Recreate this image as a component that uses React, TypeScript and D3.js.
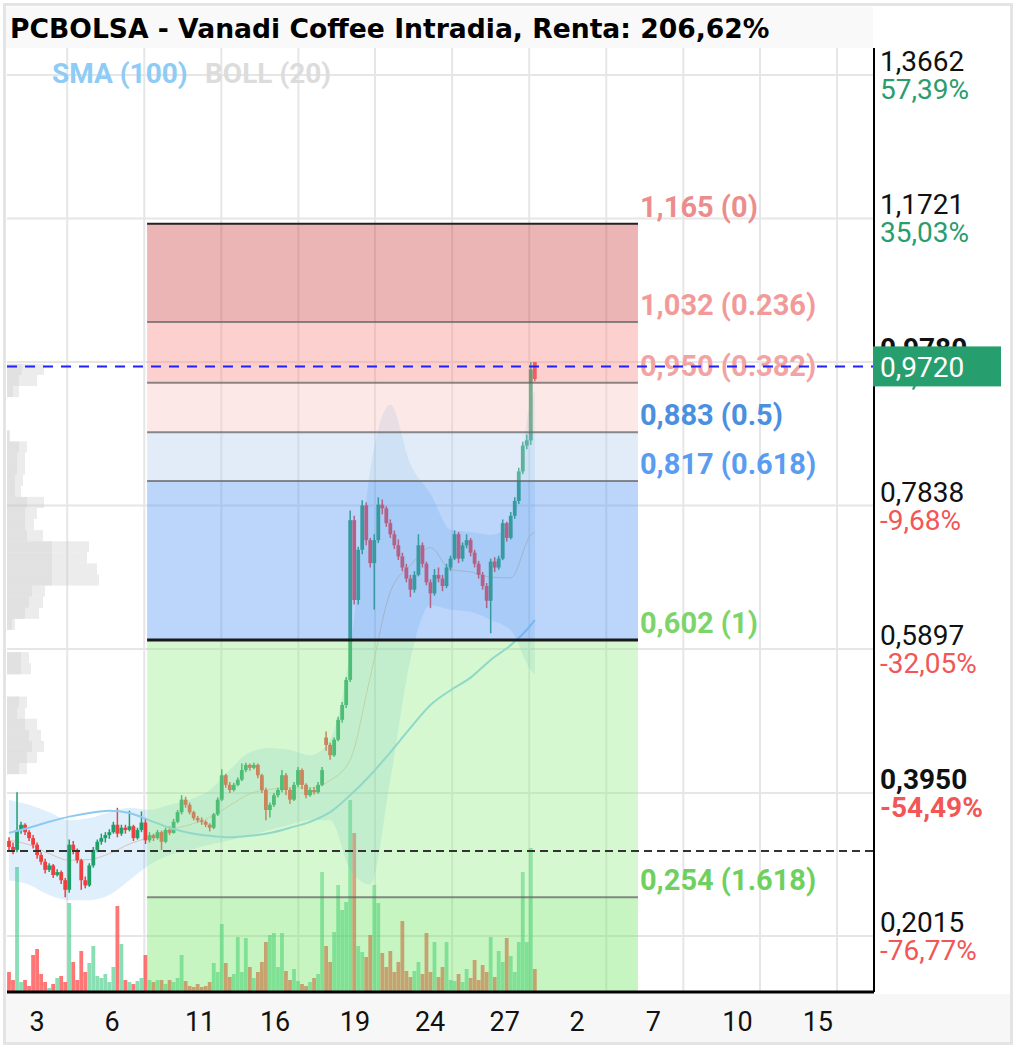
import React from 'react';
import * as d3 from 'd3';

// ---- data ----
const candleOpen = [
  0.330, 0.322, 0.318, 0.345, 0.352, 0.342, 0.334, 0.325, 0.311, 0.302,
  0.291, 0.297, 0.284, 0.288, 0.277, 0.264, 0.325, 0.318, 0.304, 0.277,
  0.270, 0.297, 0.318, 0.329, 0.334, 0.338, 0.342, 0.352, 0.340, 0.348,
  0.345, 0.350, 0.334, 0.345, 0.355, 0.331, 0.338, 0.334, 0.342, 0.329,
  0.345, 0.341, 0.356, 0.369, 0.386, 0.379, 0.369, 0.361, 0.358, 0.356,
  0.352, 0.348, 0.366, 0.386, 0.419, 0.406, 0.399, 0.406, 0.413, 0.426,
  0.433, 0.429, 0.433, 0.419, 0.399, 0.372, 0.379, 0.392, 0.399, 0.419,
  0.399, 0.386, 0.406, 0.426, 0.406, 0.392, 0.399, 0.396, 0.406, 0.470,
  0.460, 0.446, 0.467, 0.494, 0.514, 0.548, 0.764, 0.656, 0.724, 0.784,
  0.737, 0.706, 0.737, 0.785, 0.780, 0.760, 0.745, 0.730, 0.715, 0.700,
  0.685, 0.670, 0.690, 0.730, 0.705, 0.680, 0.665, 0.690, 0.685, 0.675,
  0.700, 0.712, 0.745, 0.712, 0.730, 0.737, 0.720, 0.705, 0.690, 0.675,
  0.655, 0.708, 0.700, 0.712, 0.760, 0.740, 0.770, 0.790, 0.830, 0.865,
  0.872, 0.978];
const candleClose = [
  0.322, 0.318, 0.345, 0.352, 0.342, 0.334, 0.325, 0.311, 0.302, 0.291,
  0.297, 0.284, 0.288, 0.277, 0.264, 0.325, 0.318, 0.304, 0.277, 0.270,
  0.297, 0.318, 0.329, 0.334, 0.338, 0.342, 0.352, 0.340, 0.348, 0.345,
  0.350, 0.334, 0.345, 0.355, 0.331, 0.338, 0.334, 0.342, 0.329, 0.345,
  0.341, 0.356, 0.369, 0.386, 0.379, 0.369, 0.361, 0.358, 0.356, 0.352,
  0.348, 0.366, 0.386, 0.419, 0.406, 0.399, 0.406, 0.413, 0.426, 0.433,
  0.429, 0.433, 0.419, 0.399, 0.372, 0.379, 0.392, 0.399, 0.419, 0.399,
  0.386, 0.406, 0.426, 0.406, 0.392, 0.399, 0.396, 0.406, 0.426, 0.460,
  0.446, 0.467, 0.494, 0.514, 0.548, 0.764, 0.656, 0.724, 0.784, 0.737,
  0.706, 0.737, 0.785, 0.780, 0.760, 0.745, 0.730, 0.715, 0.700, 0.685,
  0.670, 0.690, 0.730, 0.705, 0.680, 0.665, 0.690, 0.685, 0.675, 0.700,
  0.712, 0.745, 0.712, 0.730, 0.737, 0.720, 0.705, 0.690, 0.675, 0.655,
  0.708, 0.700, 0.712, 0.760, 0.740, 0.770, 0.790, 0.830, 0.865, 0.872,
  0.968, 0.955];
const candleHigh = [
  0.335, 0.328, 0.396, 0.356, 0.354, 0.345, 0.338, 0.328, 0.315, 0.306,
  0.300, 0.299, 0.292, 0.290, 0.280, 0.332, 0.330, 0.320, 0.306, 0.282,
  0.300, 0.322, 0.332, 0.340, 0.342, 0.346, 0.356, 0.375, 0.352, 0.352,
  0.371, 0.352, 0.348, 0.370, 0.360, 0.342, 0.340, 0.345, 0.344, 0.348,
  0.350, 0.360, 0.372, 0.392, 0.390, 0.382, 0.371, 0.364, 0.362, 0.358,
  0.354, 0.368, 0.389, 0.427, 0.421, 0.410, 0.409, 0.416, 0.435, 0.436,
  0.435, 0.436, 0.435, 0.421, 0.402, 0.382, 0.395, 0.402, 0.426, 0.422,
  0.402, 0.410, 0.430, 0.428, 0.408, 0.402, 0.403, 0.410, 0.430, 0.478,
  0.463, 0.470, 0.498, 0.518, 0.552, 0.777, 0.770, 0.728, 0.791, 0.788,
  0.740, 0.745, 0.795, 0.792, 0.783, 0.765, 0.750, 0.738, 0.720, 0.705,
  0.690, 0.695, 0.745, 0.734, 0.708, 0.684, 0.698, 0.700, 0.690, 0.705,
  0.716, 0.750, 0.748, 0.734, 0.745, 0.740, 0.724, 0.709, 0.694, 0.679,
  0.712, 0.714, 0.716, 0.765, 0.762, 0.775, 0.795, 0.835, 0.870, 0.880,
  0.978, 0.978];
const candleLow = [
  0.318, 0.312, 0.315, 0.340, 0.338, 0.330, 0.320, 0.306, 0.298, 0.286,
  0.288, 0.280, 0.282, 0.272, 0.254, 0.260, 0.312, 0.300, 0.264, 0.266,
  0.268, 0.294, 0.315, 0.325, 0.328, 0.333, 0.340, 0.335, 0.337, 0.340,
  0.343, 0.330, 0.332, 0.342, 0.326, 0.328, 0.330, 0.332, 0.318, 0.327,
  0.338, 0.340, 0.354, 0.366, 0.375, 0.366, 0.358, 0.355, 0.352, 0.349,
  0.343, 0.346, 0.364, 0.384, 0.402, 0.395, 0.397, 0.404, 0.411, 0.423,
  0.425, 0.427, 0.415, 0.395, 0.358, 0.362, 0.376, 0.389, 0.396, 0.392,
  0.380, 0.384, 0.403, 0.400, 0.388, 0.390, 0.393, 0.394, 0.404, 0.452,
  0.440, 0.444, 0.465, 0.490, 0.510, 0.545, 0.650, 0.650, 0.718, 0.730,
  0.700, 0.643, 0.733, 0.772, 0.755, 0.740, 0.725, 0.710, 0.695, 0.680,
  0.660, 0.666, 0.688, 0.700, 0.676, 0.645, 0.662, 0.680, 0.668, 0.672,
  0.696, 0.710, 0.706, 0.708, 0.726, 0.715, 0.700, 0.685, 0.670, 0.645,
  0.611, 0.694, 0.697, 0.710, 0.735, 0.738, 0.766, 0.786, 0.826, 0.860,
  0.866, 0.952];
const volume = [
  20, 12, 125, 10, 12, 6, 37, 43, 18, 10,
  4, 8, 14, 16, 10, 89, 30, 12, 41, 20,
  29, 46, 16, 14, 18, 10, 25, 86, 48, 12,
  10, 8, 11, 14, 37, 12, 10, 12, 12, 8,
  12, 10, 14, 37, 11, 6, 5, 8, 5, 6,
  10, 29, 20, 68, 29, 15, 18, 55, 20, 54,
  25, 14, 20, 30, 50, 57, 59, 25, 59, 21,
  12, 23, 11, 8, 6, 10, 14, 18, 120, 46,
  30, 60, 107, 82, 90, 192, 159, 46, 40, 35,
  57, 107, 89, 39, 25, 41, 20, 30, 71, 21,
  15, 21, 30, 18, 59, 20, 50, 15, 25, 50,
  12, 11, 18, 10, 23, 14, 32, 12, 27, 20,
  55, 15, 41, 30, 54, 36, 20, 50, 120, 50,
  144, 23];

// Bollinger (20) and SMA (100), sampled every 5 bars
const indIdx = [0, 5, 10, 15, 20, 25, 30, 35, 40, 45, 50, 55, 60, 65, 70, 75, 80, 85, 90, 95, 100, 105, 110, 115, 120, 125, 130, 131];
const bollUpper = [0.386, 0.379, 0.369, 0.358, 0.361, 0.369, 0.375, 0.372, 0.379, 0.386, 0.399, 0.426, 0.450, 0.456, 0.453, 0.446, 0.467, 0.588, 0.832, 0.920, 0.840, 0.800, 0.751, 0.748, 0.744, 0.758, 0.927, 0.940];
const bollLower = [0.277, 0.271, 0.257, 0.250, 0.250, 0.257, 0.277, 0.298, 0.311, 0.318, 0.325, 0.331, 0.338, 0.345, 0.352, 0.358, 0.358, 0.291, 0.271, 0.413, 0.575, 0.649, 0.643, 0.640, 0.629, 0.615, 0.561, 0.555];
const bollMid = [0.331, 0.325, 0.313, 0.304, 0.305, 0.313, 0.326, 0.335, 0.345, 0.352, 0.362, 0.378, 0.394, 0.400, 0.402, 0.402, 0.412, 0.440, 0.552, 0.667, 0.703, 0.727, 0.697, 0.694, 0.687, 0.686, 0.744, 0.748];
const sma100 = [0.341, 0.348, 0.356, 0.363, 0.368, 0.371, 0.368, 0.358, 0.348, 0.341, 0.337, 0.335, 0.337, 0.341, 0.348, 0.356, 0.369, 0.392, 0.419, 0.450, 0.483, 0.514, 0.534, 0.551, 0.575, 0.595, 0.622, 0.629];

// volume profile on the left edge
const profLevels = [0.968, 0.953, 0.938, 0.923, 0.908, 0.893, 0.878, 0.863, 0.848, 0.833, 0.818, 0.803, 0.788, 0.773, 0.758, 0.743, 0.728, 0.713, 0.698, 0.683, 0.668, 0.653, 0.638, 0.623, 0.608, 0.593, 0.578, 0.563, 0.548, 0.533, 0.518, 0.503, 0.488, 0.473, 0.458, 0.443, 0.428];
const profTotal = [37, 30, 12, 0, 0, 0, 3, 20, 18, 18, 16, 14, 37, 30, 27, 36, 82, 80, 90, 92, 38, 36, 32, 8, 0, 0, 22, 24, 0, 0, 20, 18, 30, 34, 37, 30, 20];
const profDark = [15, 12, 6, 0, 0, 0, 2, 12, 10, 10, 8, 8, 20, 18, 18, 20, 45, 45, 45, 45, 25, 22, 18, 5, 0, 0, 14, 14, 0, 0, 12, 10, 18, 22, 25, 20, 12];

// Fibonacci retracement
const fibLevels = [1.165, 1.032, 0.950, 0.883, 0.817, 0.602, 0.254];
const fibRatios = ['0', '0.236', '0.382', '0.5', '0.618', '1', '1.618'];
const fibFill = ['rgba(205,70,70,0.4)', 'rgba(250,137,137,0.4)', 'rgba(250,197,197,0.4)', 'rgba(182,207,237,0.4)', 'rgba(87,150,242,0.4)', 'rgba(150,237,137,0.4)', 'rgba(112,230,102,0.4)'];
const fibText = ['#ec8d8d', '#f29a9a', '#f3a3a3', '#4a8fe0', '#5a9cf2', '#7cd46b', '#6fd060'];
const fibLine = ['#222', '#666', '#666', '#666', '#666', '#1a1a1a', '#666'];
const fibStart = 34.9;
const fibEnd = 157.2;

// axes
const priceTicks = [1.3662, 1.1721, 0.9780, 0.7838, 0.5897, 0.3950, 0.2015];
const pctLabels = ['57,39%', '35,03%', '12,68%', '-9,68%', '-32,05%', '-54,49%', '-76,77%'];
const boldTicks = [0.9780, 0.3950];
const dayTickIdx = [7.5, 26.2, 48.1, 66.8, 86.7, 105.4, 124, 142, 161, 182, 202];
const dayLabels = ['3', '6', '11', '16', '19', '24', '27', '2', '7', '10', '15'];
const gridIdx = [15, 34.2, 53.4, 72.6, 91.7, 110.9, 130.1, 149.3, 168.5, 187.6, 206.8];
const lastPrice = 0.972;
const refPrice = 0.3165;

const fmt = (v: number, d: number) => d3.format(`.${d}f`)(v).replace('.', ',');

const App: React.FC = () => {
  const left = 7, right = 874, top = 48, bottom = 992;
  const x = d3.scaleLinear().domain([0, 216]).range([left, right]);
  const y = d3.scaleLinear().domain([0.1258, 1.4027]).range([bottom, top]);
  const vy = d3.scaleLinear().domain([0, 200]).range([bottom, bottom - 200]);
  const px = d3.scaleLinear().domain([0, 100]).range([left, left + 100]);
  const font = 'Roboto, sans-serif';
  const up = '#1f9e6a';
  const down = '#ee4040';
  const bw = 3.8;

  const bandArea = d3.area<number>().x((_, i) => x(indIdx[i] + 0.5)).y0((_, i) => y(bollLower[i])).y1(d => y(d)).curve(d3.curveMonotoneX);
  const lineOf = (vals: number[]) => d3.line<number>().x((_, i) => x(indIdx[i] + 0.5)).y(d => y(d)).curve(d3.curveMonotoneX)(vals) || '';
  const binH = y(0) - y(0.015);

  const zoneBounds = [...fibLevels, y.domain()[0]];

  return <div>
    <style>{'body{margin:0}'}</style>
    <svg width={1017} height={1048} style={{ display: 'block' }}>
      <rect x={0} y={0} width={1017} height={1048} fill="#fff" />
      <rect x={4.5} y={4.5} width={1007} height={1039} fill="none" stroke="#e4e4e4" strokeWidth={3} />
      <rect x={6} y={7} width={867} height={41} fill="#f9f9f9" />
      <text x={10} y={38} fontFamily="'DejaVu Sans', sans-serif" fontWeight={700} fontSize={26.6} fill="#000">PCBOLSA - Vanadi Coffee Intradia, Renta: 206,62%</text>

      {/* grid */}
      {gridIdx.map((g, i) => <line key={'gv' + i} x1={x(g)} x2={x(g)} y1={top} y2={bottom} stroke="#e6e6e6" strokeWidth={2} />)}
      {priceTicks.map((p, i) => <line key={'gh' + i} x1={left} x2={right} y1={y(p)} y2={y(p)} stroke="#e6e6e6" strokeWidth={2} />)}

      {/* volume profile */}
      {profLevels.map((p, i) => profTotal[i] > 0 && <g key={'vp' + i}>
        <rect x={px(0)} y={y(p) - binH / 2} width={px(profTotal[i]) - px(0)} height={binH} fill="rgba(200,200,200,0.35)" />
        <rect x={px(0)} y={y(p) - binH / 2} width={px(profDark[i]) - px(0)} height={binH} fill="rgba(180,180,180,0.18)" />
      </g>)}

      {/* volume */}
      {volume.map((v, i) => <rect key={'v' + i} x={x(i + 0.5) - bw / 2} width={bw} y={vy(v)} height={vy(0) - vy(v)}
        fill={candleClose[i] >= candleOpen[i] ? 'rgba(60,200,130,0.6)' : 'rgba(255,60,60,0.7)'} />)}

      {/* bollinger */}
      <path d={bandArea(bollUpper) || ''} fill="rgba(80,165,235,0.18)" />
      <path d={lineOf(bollMid)} fill="none" stroke="#d9c4b0" strokeWidth={1} />

      {/* candles */}
      {candleOpen.map((o, i) => {
        const c = candleClose[i];
        const col = c >= o ? up : down;
        const cx = x(i + 0.5);
        const yt = y(Math.max(o, c));
        const yb = y(Math.min(o, c));
        return <g key={'c' + i}>
          <line x1={cx} x2={cx} y1={y(candleHigh[i])} y2={y(candleLow[i])} stroke={col} strokeWidth={1.5} />
          <rect x={cx - bw / 2} width={bw} y={yt} height={Math.max(1.5, yb - yt)} fill={col} />
        </g>;
      })}

      {/* SMA 100 */}
      <path d={lineOf(sma100)} fill="none" stroke="#8ccaf2" strokeWidth={2} />

      {/* fibonacci zones */}
      {fibLevels.map((lv, i) => <rect key={'fz' + i} x={x(fibStart)} width={x(fibEnd) - x(fibStart)}
        y={y(lv)} height={y(zoneBounds[i + 1]) - y(lv)} fill={fibFill[i]} />)}
      {fibLevels.map((lv, i) => <line key={'fl' + i} x1={x(fibStart)} x2={x(fibEnd)} y1={y(lv)} y2={y(lv)}
        stroke={fibLine[i]} strokeWidth={i === 5 ? 3 : 2} opacity={i === 0 || i === 5 ? 1 : 0.75} />)}
      {fibLevels.map((lv, i) => <text key={'ft' + i} x={x(fibEnd) + 2} y={y(lv) - 7} fontFamily={font} fontWeight={700} fontSize={29} fill={fibText[i]}>
        {`${fmt(lv, 3)} (${fibRatios[i]})`}</text>)}

      {/* dashed reference lines */}
      <line x1={left} x2={right} y1={y(refPrice)} y2={y(refPrice)} stroke="#333" strokeWidth={2} strokeDasharray="8,5" />
      <line x1={left} x2={right} y1={y(lastPrice)} y2={y(lastPrice)} stroke="#1f1fff" strokeWidth={2} strokeDasharray="10,8" />

      {/* legend */}
      <text x={52} y={83} fontFamily={font} fontWeight={700} fontSize={28} fill="#8ecbf5">SMA (100)</text>
      <text x={205} y={83} fontFamily={font} fontWeight={700} fontSize={28} fill="#dcdcdc">BOLL (20)</text>

      {/* right axis */}
      {priceTicks.map((p, i) => {
        const bold = boldTicks.includes(p);
        const neg = pctLabels[i].startsWith('-');
        return <g key={'pt' + i}>
          <text x={880} y={y(p) - 4} fontFamily={font} fontSize={28} fontWeight={bold ? 700 : 400} fill="#111">{fmt(p, 4)}</text>
          <text x={880} y={y(p) + 24} fontFamily={font} fontSize={28} fontWeight={bold && neg ? 700 : 400} fill={neg ? '#f25656' : '#2a9d6f'}>{pctLabels[i]}</text>
        </g>;
      })}
      <line x1={right} x2={right} y1={top} y2={bottom} stroke="#000" strokeWidth={2} />
      <rect x={right - 1} y={y(lastPrice) - 20} width={128} height={40} fill="#279e6e" />
      <text x={880} y={y(lastPrice) + 11} fontFamily={font} fontSize={28} fill="#fff">{fmt(lastPrice, 4)}</text>

      {/* bottom axis */}
      <rect x={6} y={bottom + 2} width={1004} height={48} fill="#f7f7f7" />
      <line x1={left} x2={right} y1={bottom} y2={bottom} stroke="#000" strokeWidth={3} />
      {dayTickIdx.map((d, i) => <text key={'dt' + i} x={x(d)} y={1031} textAnchor="middle" fontFamily={font} fontSize={27} fill="#111">{dayLabels[i]}</text>)}
    </svg>
  </div>;
};

export default App;
